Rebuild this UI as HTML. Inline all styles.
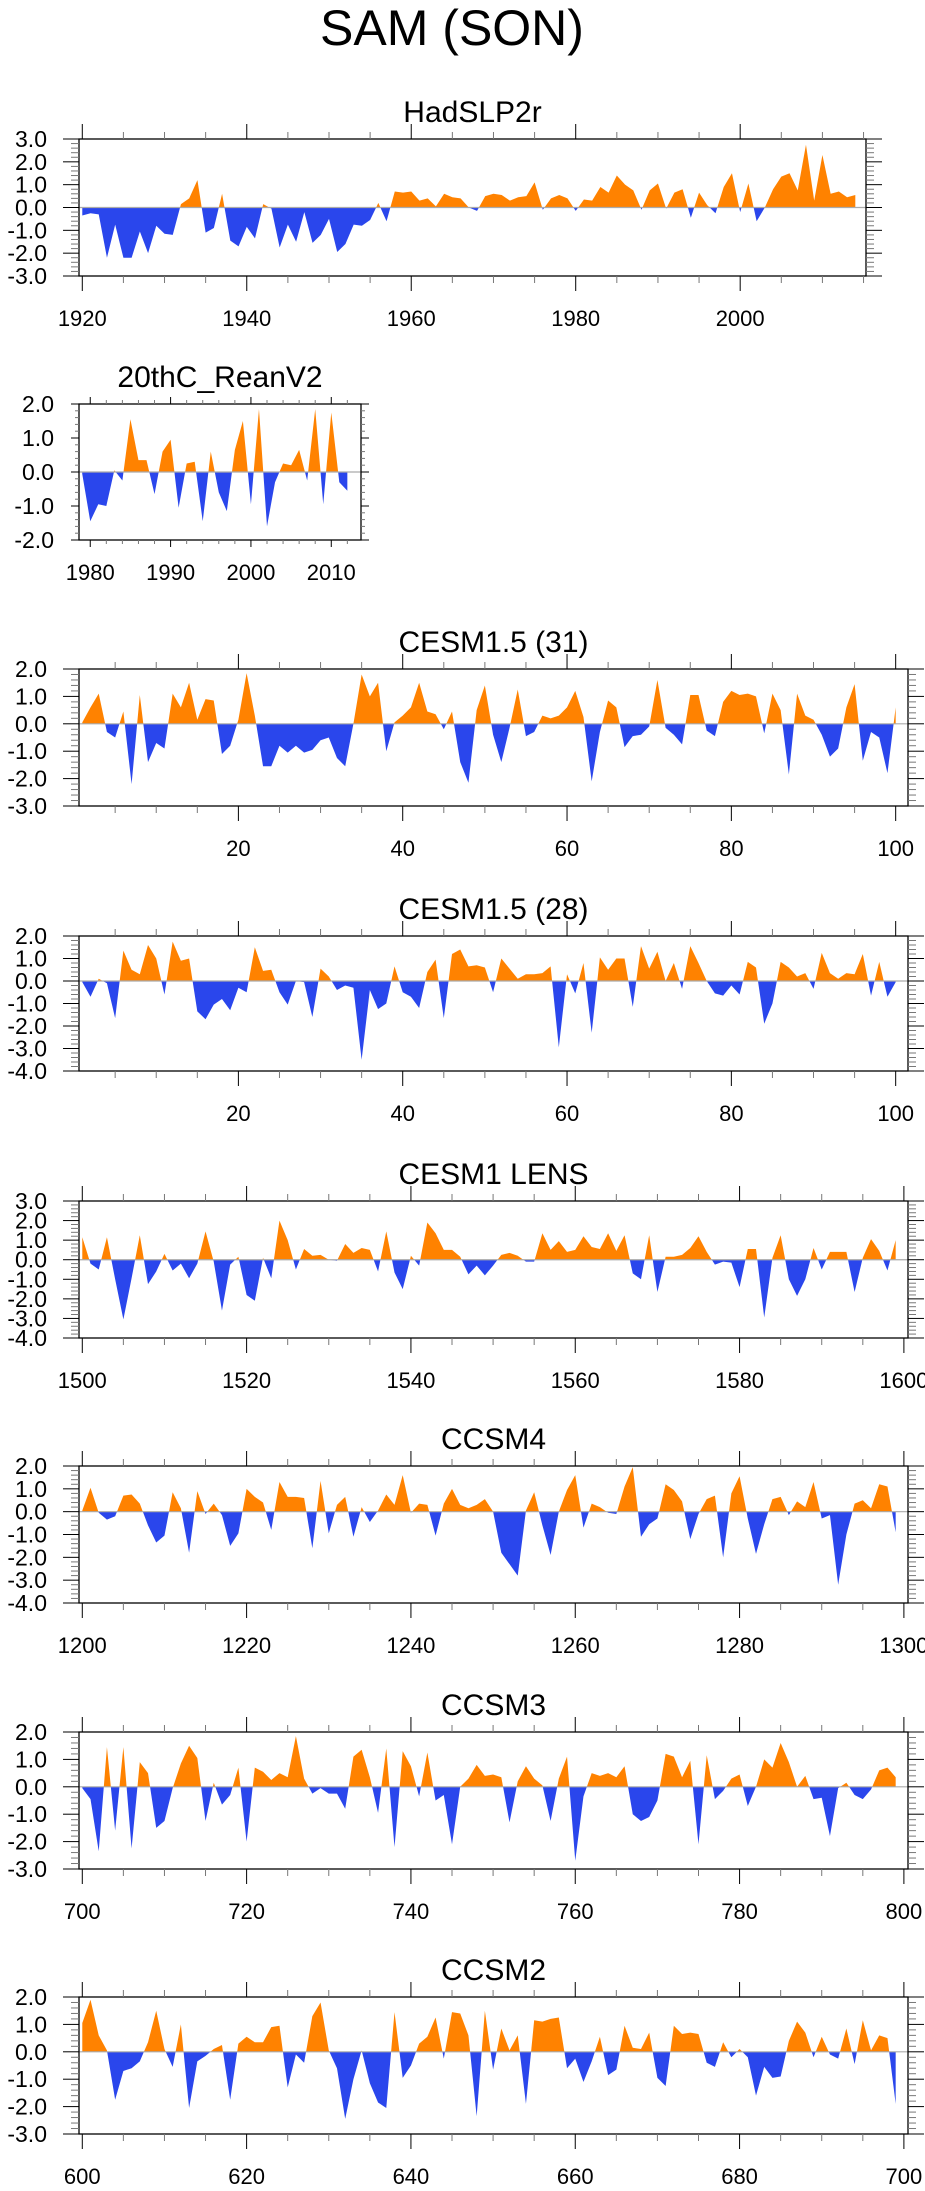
<!DOCTYPE html>
<html><head><meta charset="utf-8">
<style>
html,body{margin:0;padding:0;background:#fff;}
svg{display:block;font-family:"Liberation Sans",sans-serif;}
</style></head>
<body>
<svg id="chart" width="925" height="2191" viewBox="0 0 925 2191" xmlns="http://www.w3.org/2000/svg">
<text x="452" y="45" font-size="50" text-anchor="middle">SAM (SON)</text>
</svg>
<script>
const hadYears0 = 1920;
const hadVals = [-0.35,-0.25,-0.3,-2.2,-0.75,-2.2,-2.2,-1.05,-2.0,-0.8,-1.15,-1.2,0.15,0.4,1.2,-1.1,-0.9,0.6,-1.45,-1.7,-0.85,-1.35,0.15,-0.05,-1.75,-0.75,-1.5,-0.2,-1.55,-1.2,-0.5,-1.95,-1.6,-0.75,-0.8,-0.55,0.2,-0.6,0.7,0.65,0.7,0.3,0.4,0.05,0.6,0.45,0.4,0.0,-0.15,0.5,0.6,0.55,0.3,0.45,0.5,1.1,-0.1,0.4,0.55,0.4,-0.15,0.35,0.3,0.9,0.65,1.4,1.0,0.75,-0.1,0.75,1.05,-0.05,0.65,0.8,-0.45,0.65,0.1,-0.25,0.9,1.5,-0.2,1.05,-0.6,0.0,0.8,1.35,1.5,0.75,2.75,0.3,2.3,0.6,0.7,0.45,0.55];
const reanYears0 = 1979;
const reanVals = [-0.05,-1.45,-0.95,-1.0,0.05,-0.25,1.55,0.35,0.35,-0.65,0.6,0.95,-1.05,0.25,0.3,-1.45,0.6,-0.6,-1.15,0.65,1.5,-0.95,1.85,-1.6,-0.3,0.25,0.2,0.65,-0.25,1.85,-0.95,1.75,-0.3,-0.55];
const c31Years0 = 1;
const c31Vals = [0.05,0.6,1.1,-0.3,-0.5,0.45,-2.2,1.05,-1.4,-0.7,-0.9,1.1,0.6,1.5,0.15,0.9,0.85,-1.1,-0.8,0.15,1.85,0.3,-1.55,-1.55,-0.8,-1.05,-0.8,-1.05,-0.95,-0.6,-0.5,-1.25,-1.55,0.0,1.8,1.0,1.5,-1.0,0.05,0.3,0.6,1.5,0.45,0.35,-0.2,0.45,-1.4,-2.15,0.5,1.4,-0.4,-1.4,-0.15,1.25,-0.45,-0.3,0.3,0.2,0.3,0.6,1.2,0.25,-2.1,-0.3,0.85,0.6,-0.85,-0.45,-0.4,-0.1,1.6,-0.15,-0.4,-0.75,1.05,1.05,-0.25,-0.45,0.8,1.2,1.05,1.1,1.0,-0.35,1.1,0.5,-1.85,1.1,0.3,0.15,-0.4,-1.2,-0.9,0.6,1.45,-1.35,-0.3,-0.5,-1.8,0.6];
const c28Years0 = 1;
const c28Vals = [-0.05,-0.7,0.1,-0.1,-1.65,1.35,0.5,0.3,1.6,1.0,-0.6,1.75,0.9,1.0,-1.35,-1.7,-1.05,-0.8,-1.3,-0.3,-0.5,1.5,0.45,0.5,-0.5,-1.05,0.0,-0.05,-1.6,0.55,0.2,-0.4,-0.2,-0.3,-3.5,-0.4,-1.25,-1.0,0.65,-0.5,-0.7,-1.2,0.4,0.95,-1.65,1.2,1.4,0.65,0.7,0.6,-0.5,1.0,0.55,0.1,0.3,0.3,0.35,0.65,-2.95,0.3,-0.55,0.8,-2.3,1.05,0.5,1.0,1.0,-1.15,1.55,0.55,1.3,0.0,0.8,-0.35,1.55,0.8,0.0,-0.55,-0.65,-0.2,-0.6,0.85,0.6,-1.9,-1.0,0.85,0.6,0.2,0.35,-0.35,1.25,0.35,0.1,0.35,0.3,1.2,-0.65,0.85,-0.7,-0.05];
const lensYears0 = 1500;
const lensVals = [1.15,-0.2,-0.5,1.15,-1.0,-3.05,-0.95,1.25,-1.25,-0.6,0.3,-0.55,-0.2,-0.95,-0.2,1.45,-0.1,-2.6,-0.25,0.15,-1.8,-2.1,0.1,-0.95,2.0,1.0,-0.5,0.55,0.2,0.25,0.0,-0.05,0.8,0.35,0.6,0.5,-0.6,1.45,-0.65,-1.5,0.2,-0.3,1.9,1.35,0.5,0.5,0.15,-0.75,-0.3,-0.8,-0.3,0.25,0.35,0.2,-0.1,-0.1,1.35,0.5,0.95,0.4,0.5,1.2,0.65,0.55,1.35,0.45,1.25,-0.7,-1.0,1.25,-1.65,0.15,0.15,0.25,0.6,1.2,0.4,-0.25,-0.1,-0.15,-1.4,0.55,0.55,-2.95,0.1,1.25,-1.0,-1.85,-1.0,0.6,-0.5,0.4,0.4,0.4,-1.65,0.1,1.05,0.45,-0.55,1.0];
const c4Years0 = 1200;
const c4Vals = [0.05,1.05,-0.05,-0.35,-0.2,0.7,0.75,0.35,-0.6,-1.35,-1.05,0.85,0.15,-1.8,0.9,-0.1,0.35,-0.15,-1.5,-0.95,1.0,0.65,0.4,-0.8,1.3,0.65,0.65,0.6,-1.6,1.35,-0.95,0.3,0.65,-1.1,0.2,-0.45,0.05,0.75,0.3,1.6,-0.05,0.35,0.3,-1.05,0.35,1.0,0.3,0.15,0.3,0.55,0.0,-1.8,-2.3,-2.8,0.05,0.85,-0.6,-1.9,0.0,0.95,1.6,-0.7,0.35,0.2,-0.05,-0.1,1.1,1.95,-1.1,-0.55,-0.3,1.2,0.95,0.45,-1.2,-0.1,0.55,0.7,-2.0,0.8,1.55,-0.3,-1.85,-0.55,0.55,0.65,-0.15,0.45,0.2,1.3,-0.3,-0.15,-3.2,-1.0,0.35,0.5,0.15,1.2,1.1,-0.9];
const c3Years0 = 700;
const c3Vals = [-0.05,-0.45,-2.35,1.45,-1.6,1.45,-2.25,0.9,0.5,-1.5,-1.25,-0.05,0.85,1.5,1.05,-1.25,0.15,-0.65,-0.3,0.7,-2.0,0.7,0.55,0.25,0.5,0.35,1.85,0.3,-0.25,-0.05,-0.25,-0.25,-0.8,1.1,1.35,0.35,-0.95,1.4,-2.2,1.3,0.75,-0.35,1.25,-0.5,-0.3,-2.1,0.0,0.3,0.8,0.4,0.45,0.35,-1.3,0.2,0.75,0.3,0.05,-1.25,0.3,1.1,-2.7,-0.35,0.5,0.4,0.5,0.35,0.75,-1.0,-1.25,-1.1,-0.5,1.2,1.1,0.35,0.95,-2.1,1.15,-0.45,-0.15,0.3,0.45,-0.7,0.0,1.0,0.7,1.6,0.9,0.0,0.4,-0.45,-0.4,-1.8,-0.05,0.15,-0.3,-0.45,-0.1,0.6,0.7,0.35];
const c2Years0 = 600;
const c2Vals = [1.05,1.9,0.6,0.05,-1.75,-0.7,-0.6,-0.35,0.35,1.5,0.1,-0.55,1.0,-2.05,-0.35,-0.15,0.1,0.25,-1.75,0.3,0.55,0.35,0.35,0.9,0.95,-1.3,-0.1,-0.4,1.3,1.8,0.05,-0.6,-2.45,-1.0,0.05,-1.15,-1.85,-2.05,1.45,-0.95,-0.5,0.3,0.55,1.25,-0.25,1.45,1.4,0.6,-2.35,1.5,-0.65,0.85,0.05,0.6,-1.9,1.15,1.1,1.2,1.25,-0.6,-0.25,-1.1,-0.35,0.55,-0.85,-0.65,0.95,0.15,0.1,0.7,-0.95,-1.25,0.95,0.65,0.7,0.65,-0.4,-0.55,0.35,-0.2,0.1,-0.2,-1.6,-0.55,-0.95,-0.9,0.4,1.1,0.7,-0.2,0.55,-0.1,-0.25,0.85,-0.45,1.15,0.05,0.6,0.5,-1.9];

const panelTitles = ["HadSLP2r","20thC_ReanV2","CESM1.5 (31)","CESM1.5 (28)","CESM1 LENS","CCSM4","CCSM3","CCSM2"];
const yMins = [-3,-2,-3,-4,-4,-4,-3,-3];
const yMaxs = [3,2,2,2,3,2,2,2];
const xMajorTicks = [[1920,1940,1960,1980,2000],[1980,1990,2000,2010],[20,40,60,80,100],[20,40,60,80,100],[1500,1520,1540,1560,1580,1600],[1200,1220,1240,1260,1280,1300],[700,720,740,760,780,800],[600,620,640,660,680,700]];
const seriesVals = [hadVals,reanVals,c31Vals,c28Vals,lensVals,c4Vals,c3Vals,c2Vals];
const seriesStart = [hadYears0,reanYears0,c31Years0,c28Years0,lensYears0,c4Years0,c3Years0,c2Years0];

const layout = [
 {l:79,r:866,t:139,b:276,xmin:1919.6,xmax:2015.3,minorX:5,small:false,lblEnd:47},
 {l:79,r:361,t:404,b:540,xmin:1978.6,xmax:2013.7,minorX:2,small:true,lblEnd:54},
 {l:79,r:908,t:669,b:806,xmin:0.6,xmax:101.5,minorX:5,small:false,lblEnd:47},
 {l:79,r:908,t:936,b:1071,xmin:0.6,xmax:101.5,minorX:5,small:false,lblEnd:47},
 {l:79,r:908,t:1201,b:1338,xmin:1499.6,xmax:1600.5,minorX:5,small:false,lblEnd:47},
 {l:79,r:908,t:1466,b:1603,xmin:1199.6,xmax:1300.5,minorX:5,small:false,lblEnd:47},
 {l:79,r:908,t:1732,b:1869,xmin:699.6,xmax:800.5,minorX:5,small:false,lblEnd:47},
 {l:79,r:908,t:1997,b:2134,xmin:599.6,xmax:700.5,minorX:5,small:false,lblEnd:47}
];
const NS="http://www.w3.org/2000/svg";
const svg=document.getElementById('chart');
function mk(tag,attrs,parent){const e=document.createElementNS(NS,tag);for(const k in attrs)e.setAttribute(k,attrs[k]);(parent||svg).appendChild(e);return e;}
const defs=mk('defs',{});
const ORANGE='#ff8200', BLUE='#2a46ec';

panelTitles.forEach((title,i)=>{
  const L=layout[i], ymin=yMins[i], ymax=yMaxs[i], vals=seriesVals[i], y0=seriesStart[i];
  const xs=v=>L.l+(v-L.xmin)/(L.xmax-L.xmin)*(L.r-L.l);
  const ys=v=>L.b-(v-ymin)/(ymax-ymin)*(L.b-L.t);
  const g=mk('g',{});
  
  
  const tt=mk('text',{x:(L.l+L.r)/2,y:L.t-17,'font-size':30,'text-anchor':'middle'},g);
  tt.textContent=title;
  
  
  const zy=ys(0);
  const ca=mk('clipPath',{id:'ca'+i},defs); mk('rect',{x:L.l,y:L.t,width:L.r-L.l,height:zy-L.t},ca);
  const cb=mk('clipPath',{id:'cb'+i},defs); mk('rect',{x:L.l,y:zy,width:L.r-L.l,height:L.b-zy},cb);
  let pts=[];
  vals.forEach((v,k)=>pts.push(xs(y0+k).toFixed(2)+','+ys(v).toFixed(2)));
  const first=xs(y0).toFixed(2), last=xs(y0+vals.length-1).toFixed(2);
  const poly=first+','+zy+' '+pts.join(' ')+' '+last+','+zy;
  const pa=mk('polygon',{points:poly,fill:ORANGE,'clip-path':'url(#ca'+i+')'},g);
  
  
  const pb=mk('polygon',{points:poly,fill:BLUE,'clip-path':'url(#cb'+i+')'},g);
  
  
  const zl=mk('line',{x1:L.l,x2:L.r,y1:zy,y2:zy,stroke:'#aaaaaa','stroke-width':1.2},g);
  
  
  const fr=mk('rect',{x:L.l,y:L.t,width:L.r-L.l,height:L.b-L.t,fill:'none',stroke:'#000','stroke-width':1.3},g);
  
  
  const maj=L.small?8:16, mnr=L.small?4:8, xmaj=L.small?7:15, xmnr=L.small?4:7;
  for(let v=ymin; v<=ymax+1e-6; v+=0.2){
    const isMaj=Math.abs(v-Math.round(v))<1e-6;
    const y=ys(v), len=isMaj?maj:mnr;
    const col=isMaj?'#000':'#777';
    mk('line',{x1:L.l-len,x2:L.l,y1:y,y2:y,stroke:col,'stroke-width':1},g);
    mk('line',{x1:L.r,x2:L.r+len,y1:y,y2:y,stroke:col,'stroke-width':1},g);
    if(isMaj){
      const t=mk('text',{x:L.lblEnd,y:y+8,'font-size':23,'text-anchor':'end'},g);
      t.textContent=Math.round(v).toFixed(1);
      
      
    }
  }
  const startM=Math.ceil(L.xmin/L.minorX)*L.minorX;
  for(let v=startM; v<=L.xmax; v+=L.minorX){
    const x=xs(v);
    const isMaj=xMajorTicks[i].indexOf(v)>=0 || (v%20===0 && !L.small) || (L.small && v%10===0);
    const len=isMaj?xmaj:xmnr;
    const col=isMaj?'#000':'#777';
    mk('line',{x1:x,x2:x,y1:L.t-len,y2:L.t,stroke:col,'stroke-width':1},g);
    mk('line',{x1:x,x2:x,y1:L.b,y2:L.b+len,stroke:col,'stroke-width':1},g);
  }
  xMajorTicks[i].forEach(v=>{
    const t=mk('text',{x:xs(v),y:L.small?L.b+40:L.b+50,'font-size':22,'text-anchor':'middle'},g);
    t.textContent=String(v);
    
    
  });
});
</script>
</body></html>
